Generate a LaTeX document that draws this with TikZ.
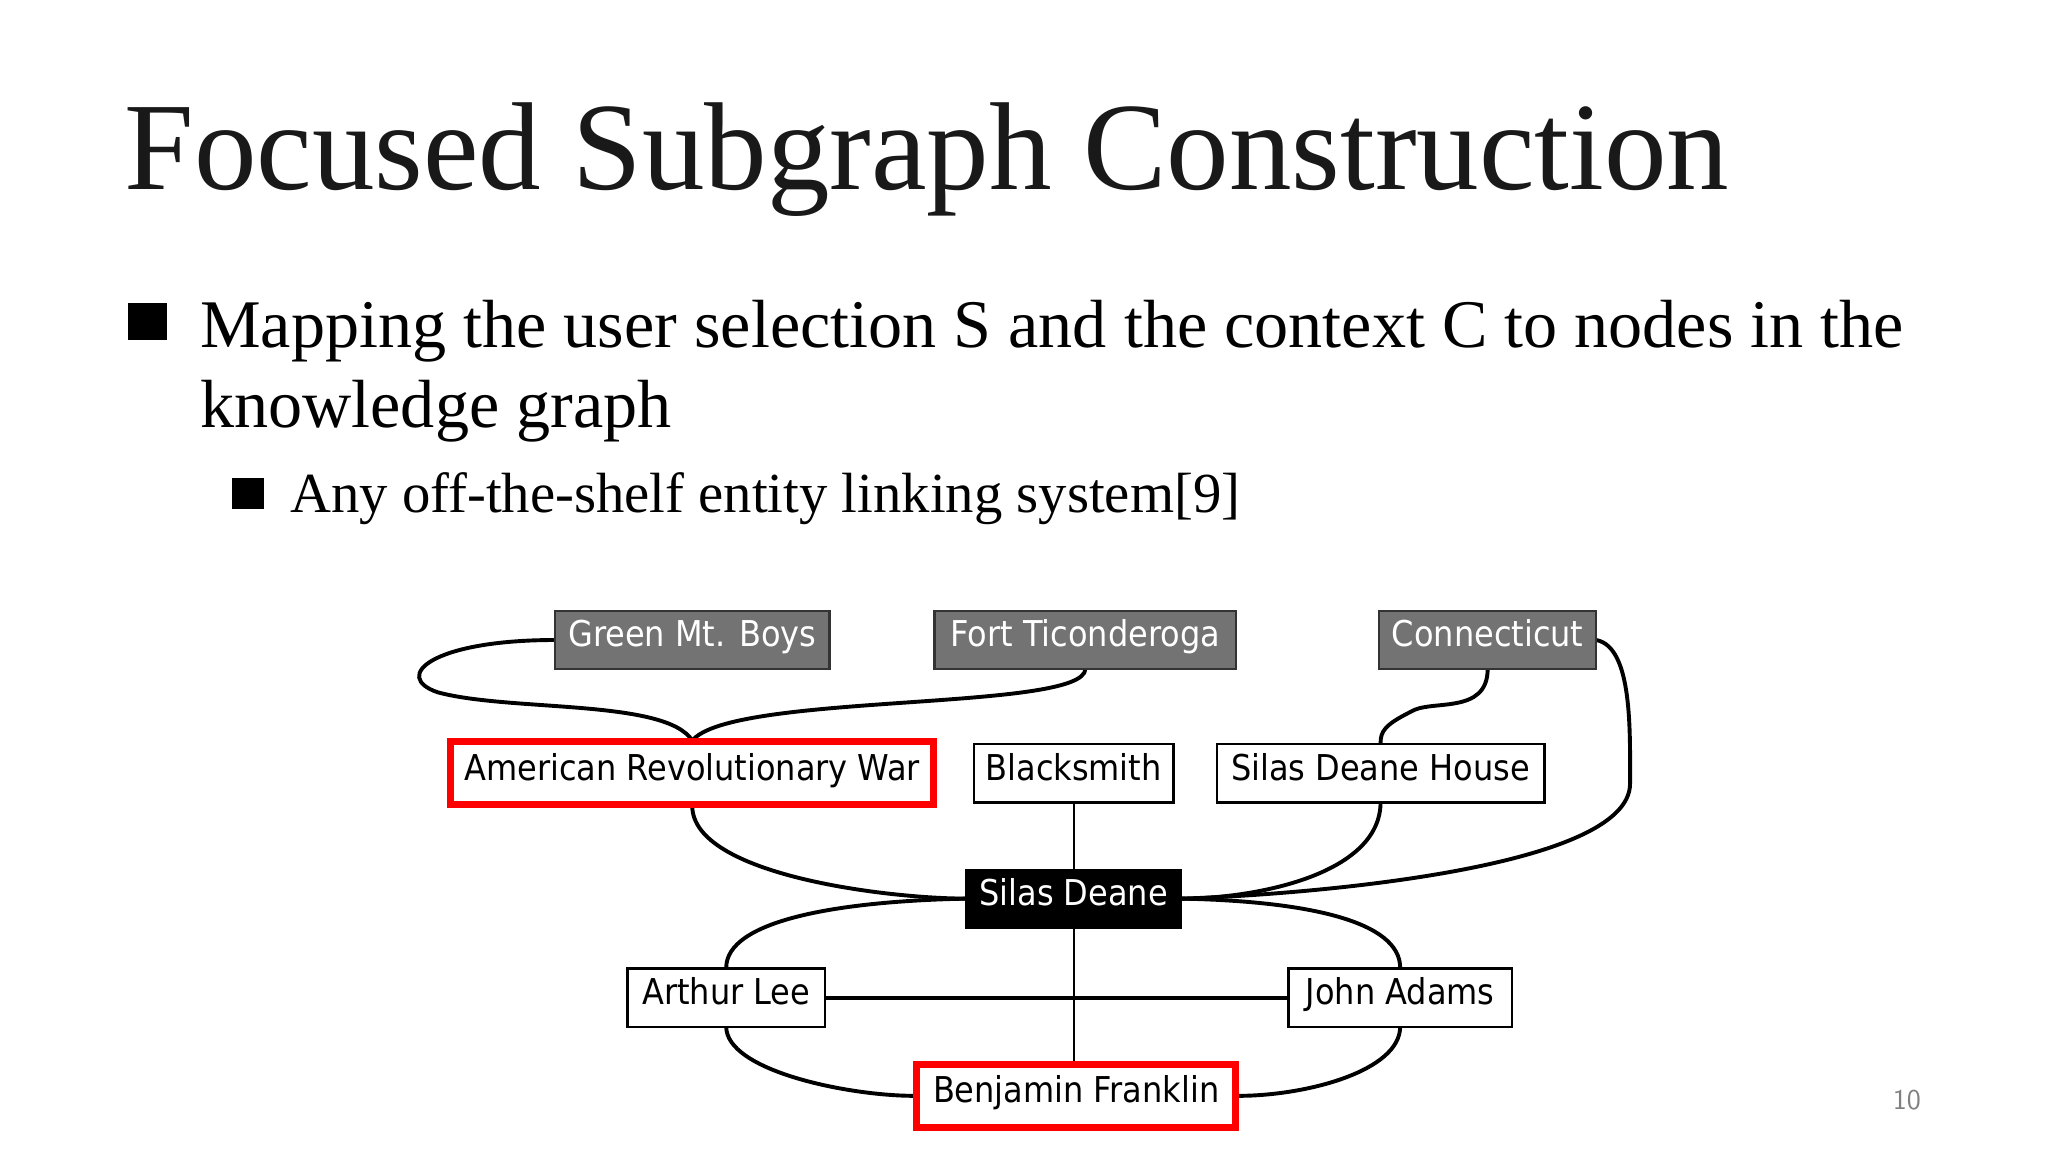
\documentclass[tikz,border=0pt]{standalone}
\usepackage{fontspec}
\setmainfont{Liberation Serif}
\newfontfamily\gfont{DejaVu Sans Condensed}
\begin{document}
\begin{tikzpicture}[x=0.02cm,y=-0.02cm,
  base/.style={font=\gfont\fontsize{15.5}{18}\selectfont,text height=10pt,text depth=4pt,inner sep=0pt},
  gbox/.style={base,draw=black!80,line width=1pt,fill=black!55,text=white,minimum height=44*0.02cm},
  wbox/.style={base,draw=black,line width=1pt,fill=white,minimum height=45*0.02cm},
  rbox/.style={base,draw=red,line width=3pt,fill=white,minimum height=48*0.02cm},
  bbox/.style={base,draw=black,fill=black,text=white,minimum height=45*0.02cm},
  thk/.style={line width=1.7pt},
  thn/.style={line width=1pt}]
\useasboundingbox[fill=white] (0,0) rectangle (1568,882);
% texts
\node[anchor=base west,inner sep=0pt,font=\fontsize{54.5}{60}\selectfont,text=black!90] (title) at (95,145) {Focused Subgraph Construction};
\fill (98,232) rectangle (128,260);
\node[anchor=base west,inner sep=0pt,font=\fontsize{29.7}{36}\selectfont] (b1) at (153,266) {Mapping the user selection S and the context C to nodes in the};
\node[anchor=base west,inner sep=0pt,font=\fontsize{29.7}{36}\selectfont] (b1b) at (153,327) {knowledge graph};
\fill (178,366) rectangle (202,390);
\node[anchor=base west,inner sep=0pt,font=\fontsize{24.7}{30}\selectfont] (b2) at (222,392) {Any off-the-shelf entity linking system[9]};
\node[font=\sffamily\fontsize{12.5}{14}\selectfont,text=black!50] (pg) at (1460,842) {10};
% edges
\draw[thk] (425,490) .. controls (330,490) and (300,518) .. (335,530) .. controls (390,545) and (510,535) .. (530,567);
\draw[thk] (831,512) .. controls (831,545) and (560,530) .. (530,567);
\draw[thk] (1139,512) .. controls (1139,548) and (1095,535) .. (1080,545) .. controls (1060,555) and (1057,560) .. (1057,569);
\draw[thk] (1222,490) .. controls (1250,495) and (1248,560) .. (1248,600) .. controls (1248,665) and (1000,685) .. (905,688);
\draw[thk] (530,617) .. controls (530,670) and (680,688) .. (740,688);
\draw[thk] (1057,614) .. controls (1057,670) and (960,688) .. (905,688);
\draw[thk] (740,688) .. controls (640,690) and (556,705) .. (556,741);
\draw[thk] (905,688) .. controls (1000,690) and (1072,705) .. (1072,741);
\draw[thk] (632,764) -- (987,764);
\draw[thk] (556,786) .. controls (556,820) and (650,839) .. (700,839);
\draw[thk] (1072,786) .. controls (1072,820) and (1000,839) .. (948,839);
\draw[thn] (822,614) -- (822,813);
% nodes
\node[gbox,minimum width=210*0.02cm] (gmb) at (530,490) {Green Mt. Boys};
\node[gbox,minimum width=231*0.02cm] (ft) at (831,490) {Fort Ticonderoga};
\node[gbox,minimum width=166*0.02cm] (ct) at (1139,490) {Connecticut};
\node[rbox,minimum width=370*0.02cm] (arw) at (530,592) {American Revolutionary War};
\node[wbox,minimum width=153*0.02cm] (bs) at (822,592) {Blacksmith};
\node[wbox,minimum width=251*0.02cm] (sdh) at (1057,592) {Silas Deane House};
\node[bbox,minimum width=165*0.02cm] (sd) at (822,688) {Silas Deane};
\node[wbox,minimum width=151*0.02cm] (al) at (556,764) {Arthur Lee};
\node[wbox,minimum width=171*0.02cm] (ja) at (1072,764) {John Adams};
\node[rbox,minimum width=244*0.02cm] (bf) at (824,839) {Benjamin Franklin};
\end{tikzpicture}
\end{document}
